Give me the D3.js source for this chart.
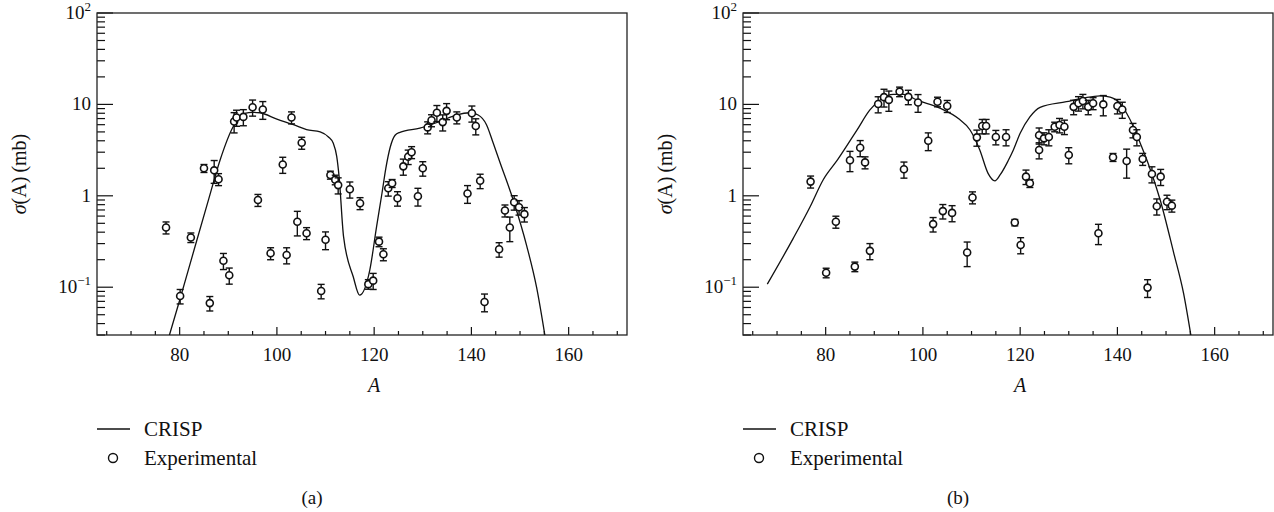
<!DOCTYPE html>
<html>
<head>
<meta charset="utf-8">
<script src="https://cdn.jsdelivr.net/npm/d3@7"></script>
<style>
  body { margin: 0; background: #fff; }
  svg { display: block; }
</style>
</head>
<body>
<div id="chart"></div>
<script>
// Panel (a): experimental points  [A, sigma (mb), relative error]
const expMassA  = [77.2, 80.1, 82.3, 85.0, 86.2, 87.1, 88.0, 89.0, 90.2, 91.2, 91.7, 93.1, 95.0, 96.1, 97.1, 98.7,
  101.2, 102.0, 103.0, 104.2, 105.1, 106.1, 109.1, 110.0, 111.0, 112.0, 112.6, 115.0, 117.1, 118.8, 119.8,
  121.0, 121.9, 122.9, 123.7, 124.8, 126.0, 127.0, 127.7, 129.0, 130.0, 131.0, 131.8, 132.9, 134.1, 134.9,
  137.0, 139.2, 140.1, 140.9, 141.8, 142.7, 145.7, 146.9, 147.9, 148.8, 149.8, 150.9];
const expSigmaA = [0.45, 0.080, 0.35, 2.0, 0.067, 1.9, 1.52, 0.195, 0.135, 6.5, 7.2, 7.3, 9.3, 0.90, 8.8, 0.235,
  2.2, 0.225, 7.2, 0.52, 3.8, 0.39, 0.091, 0.33, 1.69, 1.50, 1.31, 1.18, 0.83, 0.108, 0.118,
  0.315, 0.229, 1.21, 1.37, 0.94, 2.1, 2.68, 3.0, 0.99, 2.0, 5.6, 6.7, 8.1, 6.4, 8.5,
  7.2, 1.06, 8.0, 5.8, 1.46, 0.069, 0.26, 0.69, 0.45, 0.85, 0.75, 0.63];
const expErrA   = [0.15, 0.18, 0.12, 0.10, 0.18, 0.28, 0.15, 0.20, 0.20, 0.25, 0.20, 0.20, 0.20, 0.15, 0.22, 0.15,
  0.20, 0.20, 0.15, 0.30, 0.15, 0.15, 0.18, 0.22, 0.10, 0.12, 0.20, 0.20, 0.15, 0.12, 0.20,
  0.12, 0.15, 0.18, 0.10, 0.18, 0.20, 0.18, 0.15, 0.22, 0.18, 0.15, 0.15, 0.20, 0.20, 0.20,
  0.15, 0.22, 0.20, 0.20, 0.18, 0.22, 0.18, 0.15, 0.30, 0.18, 0.18, 0.18];

// Panel (a): CRISP calculation
const crispMassA  = [77.9, 80, 83, 86, 88.3, 91.0, 93.4, 95, 96.5, 100, 103.4, 106.1, 108.9, 110.6, 111.6, 112.3,
  112.8, 113.7, 115.7, 117.0, 119.1, 120.5, 121.6, 122.4, 123.3, 124.3, 125.3, 129.4, 133.5, 137.0, 139.7,
  141.4, 143.1, 144.5, 145.9, 148.6, 151.4, 153.4, 155.1];
const crispSigmaA = [0.03, 0.072, 0.26, 0.93, 2.45, 5.7, 8.0, 8.2, 8.1, 6.9, 6.0, 5.3, 5.0, 4.4, 3.75, 2.7,
  1.6, 0.36, 0.13, 0.082, 0.154, 0.46, 1.06, 2.0, 3.4, 4.6, 4.95, 5.5, 6.5, 7.7, 8.1,
  7.65, 6.0, 3.75, 2.3, 0.9, 0.28, 0.10, 0.03];

// Panel (b): experimental points
const expMassB  = [76.9, 80.1, 82.1, 85.0, 86.0, 87.1, 88.1, 89.1, 90.8, 92.0, 93.0, 95.2, 96.1, 97.0, 99.0,
  101.1, 102.1, 103.0, 104.1, 105.0, 106.0, 109.1, 110.2, 111.1, 112.2, 113.0, 115.0, 117.1, 118.9, 120.1,
  121.2, 122.0, 123.9, 123.9, 124.9, 125.9, 127.1, 128.1, 129.1, 130.0, 131.0, 132.0, 132.9, 134.0, 135.0,
  136.1, 137.1, 139.1, 140.0, 141.0, 141.9, 143.2, 144.0, 145.2, 146.2, 147.1, 148.1, 148.9, 150.2, 151.2];
const expSigmaB = [1.43, 0.144, 0.52, 2.45, 0.168, 3.35, 2.32, 0.25, 10.1, 12.0, 11.2, 13.8, 1.95, 12.1, 10.5,
  4.0, 0.49, 10.7, 0.68, 9.6, 0.65, 0.24, 0.96, 4.36, 5.8, 5.8, 4.4, 4.4, 0.51, 0.29,
  1.62, 1.37, 4.6, 3.17, 4.25, 4.4, 5.7, 5.95, 5.7, 2.8, 9.4, 10.3, 10.9, 9.4, 10.3,
  0.39, 10.0, 2.64, 9.6, 8.8, 2.4, 5.25, 4.4, 2.53, 0.099, 1.73, 0.77, 1.62, 0.86, 0.78];
const expErrB   = [0.15, 0.12, 0.15, 0.25, 0.12, 0.20, 0.15, 0.20, 0.20, 0.22, 0.25, 0.12, 0.20, 0.18, 0.22,
  0.22, 0.18, 0.12, 0.18, 0.15, 0.20, 0.30, 0.15, 0.20, 0.18, 0.18, 0.18, 0.20, 0.08, 0.20,
  0.18, 0.10, 0.20, 0.20, 0.15, 0.20, 0.12, 0.18, 0.18, 0.20, 0.18, 0.18, 0.18, 0.18, 0.15,
  0.25, 0.25, 0.10, 0.18, 0.20, 0.35, 0.18, 0.20, 0.15, 0.22, 0.20, 0.20, 0.20, 0.18, 0.15];

// Panel (b): CRISP calculation
const crispMassB  = [68.0, 73.3, 76.8, 79.5, 82.5, 86.4, 89.1, 91.2, 93.9, 96.0, 98.7, 103.5, 107.3, 109.7,
  111.7, 113.4, 114.8, 115.9, 117.5, 118.6, 120.0, 122.0, 124.1, 129.5, 133.0, 136.4, 138.5, 140.5, 141.9,
  143.3, 144.7, 146.4, 148.8, 151.6, 153.6, 155.1];
const crispSigmaB = [0.108, 0.34, 0.76, 1.5, 2.5, 5.2, 8.7, 11.2, 12.9, 12.9, 11.2, 9.1, 7.0, 5.25,
  3.17, 1.76, 1.46, 1.7, 2.4, 3.17, 4.83, 7.3, 9.3, 10.7, 11.7, 12.4, 12.0, 10.3, 8.0,
  5.7, 3.75, 2.2, 0.9, 0.235, 0.086, 0.03];

// Axes
const xDomain = [63, 172];
const yDomain = [0.03, 100];
const xMajor = [80, 100, 120, 140, 160];
const xMinor = d3.range(65, 171, 5);
const yMajor = [0.1, 1, 10, 100];
const yMajorLabels = [["10", "−1"], ["1", ""], ["10", ""], ["10", "2"]];
const yMinor = [0.03, 0.04, 0.05, 0.06, 0.07, 0.08, 0.09, 0.2, 0.3, 0.4, 0.5, 0.6, 0.7, 0.8, 0.9,
  2, 3, 4, 5, 6, 7, 8, 9, 20, 30, 40, 50, 60, 70, 80, 90];
const legendLabels = ["CRISP", "Experimental"];

const W = 1274, H = 512;
const svg = d3.select('#chart').append('svg')
  .attr('width', W).attr('height', H)
  .attr('font-family', '"Liberation Serif", "Times New Roman", Times, "DejaVu Serif", serif')
  .attr('fill', '#111');

const panels = [
  { id: 'a', left: 97, right: 627, mass: expMassA, sigma: expSigmaA, err: expErrA, cm: crispMassA, cs: crispSigmaA },
  { id: 'b', left: 743, right: 1273, mass: expMassB, sigma: expSigmaB, err: expErrB, cm: crispMassB, cs: crispSigmaB }
];
const plotTop = 13, plotBottom = 335;

panels.forEach(p => {
  const x = d3.scaleLinear().domain(xDomain).range([p.left, p.right]);
  const y = d3.scaleLog().domain(yDomain).range([plotBottom, plotTop]);
  const g = svg.append('g');

  g.append('clipPath').attr('id', 'clip-' + p.id)
    .append('rect').attr('x', p.left).attr('y', plotTop).attr('width', p.right - p.left).attr('height', plotBottom - plotTop);

  // x ticks (inward)
  g.selectAll('.xmin').data(xMinor).join('line')
    .attr('x1', d => x(d)).attr('x2', d => x(d))
    .attr('y1', plotBottom).attr('y2', d => plotBottom - (xMajor.includes(d) ? 8 : 4))
    .attr('stroke', '#111').attr('stroke-width', 1.2);
  g.selectAll('.xlab').data(xMajor).join('text')
    .attr('x', d => x(d)).attr('y', plotBottom + 26)
    .attr('text-anchor', 'middle').attr('font-size', 19)
    .text(d => d);

  // y ticks (inward)
  g.selectAll('.ymin').data(yMinor).join('line')
    .attr('x1', p.left).attr('x2', p.left + 8)
    .attr('y1', d => y(d)).attr('y2', d => y(d))
    .attr('stroke', '#111').attr('stroke-width', 1.2);
  g.selectAll('.ymaj').data(yMajor).join('line')
    .attr('x1', p.left).attr('x2', p.left + 16)
    .attr('y1', d => y(d)).attr('y2', d => y(d))
    .attr('stroke', '#111').attr('stroke-width', 1.2);

  const ylab = g.selectAll('.ylab').data(yMajor).join('text')
    .attr('x', p.left - 6).attr('y', d => y(d) + 6)
    .attr('text-anchor', 'end').attr('font-size', 19);
  ylab.append('tspan').text((d, i) => yMajorLabels[i][0]);
  ylab.append('tspan').attr('font-size', 13).attr('dy', -8)
    .text((d, i) => yMajorLabels[i][1]);

  // frame
  g.append('rect')
    .attr('x', p.left).attr('y', plotTop)
    .attr('width', p.right - p.left).attr('height', plotBottom - plotTop)
    .attr('fill', 'none').attr('stroke', '#222').attr('stroke-width', 1.3);

  // CRISP curve
  const line = d3.line()
    .x((d, i) => x(p.cm[i])).y((d, i) => y(p.cs[i]))
    .curve(d3.curveMonotoneX);
  g.append('path')
    .datum(p.cm)
    .attr('clip-path', `url(#clip-${p.id})`)
    .attr('d', line)
    .attr('fill', 'none').attr('stroke', '#111').attr('stroke-width', 1.3);

  // experimental points with error bars
  const pts = p.mass.map((m, i) => ({ m, s: p.sigma[i], e: p.err[i] }));
  const pt = g.append('g').selectAll('g').data(pts).join('g');
  pt.append('line')
    .attr('x1', d => x(d.m)).attr('x2', d => x(d.m))
    .attr('y1', d => y(d.s * (1 + d.e))).attr('y2', d => y(d.s * (1 - d.e)))
    .attr('stroke', '#111').attr('stroke-width', 1.4);
  [1, -1].forEach(sgn => {
    pt.append('line')
      .attr('x1', d => x(d.m) - 3.5).attr('x2', d => x(d.m) + 3.5)
      .attr('y1', d => y(d.s * (1 + sgn * d.e))).attr('y2', d => y(d.s * (1 + sgn * d.e)))
      .attr('stroke', '#111').attr('stroke-width', 1.4);
  });
  pt.append('circle')
    .attr('cx', d => x(d.m)).attr('cy', d => y(d.s))
    .attr('r', 3.5)
    .attr('fill', '#fff').attr('stroke', '#111').attr('stroke-width', 1.6);

  // axis titles
  g.append('text')
    .attr('x', x(120)).attr('y', plotBottom + 57)
    .attr('text-anchor', 'middle').attr('font-size', 20).attr('font-style', 'italic')
    .text('A');
  const yt = g.append('text')
    .attr('transform', `translate(${p.left - 71},${(plotTop + plotBottom) / 2}) rotate(-90)`)
    .attr('text-anchor', 'middle').attr('font-size', 20);
  yt.append('tspan').attr('font-style', 'italic').text('σ');
  yt.append('tspan').text('(A)\u2009(mb)');

  // legend
  g.append('line')
    .attr('x1', p.left).attr('x2', p.left + 33)
    .attr('y1', 429).attr('y2', 429)
    .attr('stroke', '#111').attr('stroke-width', 1.3);
  g.append('text').attr('x', p.left + 47).attr('y', 436).attr('font-size', 21).text(legendLabels[0]);
  g.append('circle')
    .attr('cx', p.left + 16).attr('cy', 458).attr('r', 4.5)
    .attr('fill', '#fff').attr('stroke', '#111').attr('stroke-width', 1.4);
  g.append('text').attr('x', p.left + 47).attr('y', 465).attr('font-size', 21).text(legendLabels[1]);

  // panel caption
  g.append('text')
    .attr('x', p.left + 215).attr('y', 504)
    .attr('text-anchor', 'middle').attr('font-size', 19)
    .text(`(${p.id})`);
});
</script>
</body>
</html>
